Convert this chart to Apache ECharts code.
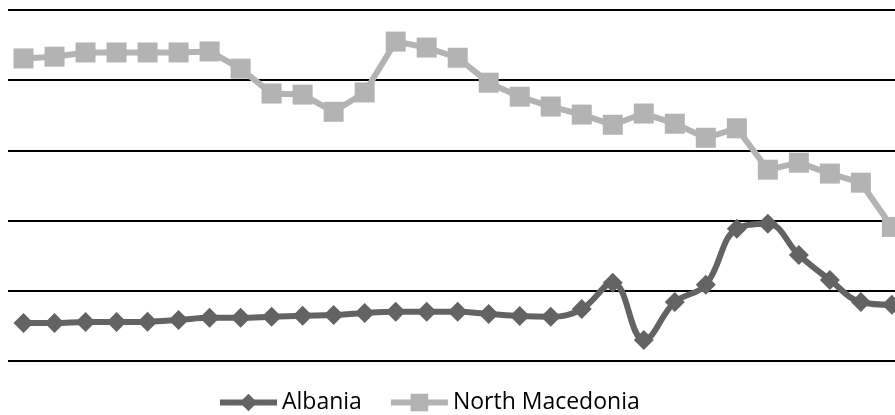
<!DOCTYPE html>
<html>
<head>
<meta charset="utf-8">
<script src="https://cdn.jsdelivr.net/npm/echarts@6/dist/echarts.min.js"></script>
<style>
  html, body { margin: 0; padding: 0; background: #fff; }
  #chart { width: 895px; height: 415px; }
</style>
</head>
<body>
<div id="chart"></div>
<script>
// Periods along the horizontal axis (29 observations)
const periods = [
  '1', '2', '3', '4', '5', '6', '7', '8', '9', '10',
  '11', '12', '13', '14', '15', '16', '17', '18', '19', '20',
  '21', '22', '23', '24', '25', '26', '27', '28', '29'
];

const albania = [
  10.8, 10.8, 11.1, 11.1, 11.2, 11.7, 12.3, 12.3, 12.6, 12.9,
  13.1, 13.7, 14.0, 14.0, 14.0, 13.4, 12.8, 12.6, 14.8, 22.3,
  6.0, 16.8, 21.7, 37.7, 39.1, 30.2, 23.1, 16.8, 16.0
];

const northMacedonia = [
  86.2, 86.7, 87.9, 87.9, 87.9, 87.9, 88.2, 83.3, 76.2, 75.9,
  71.0, 76.5, 91.0, 89.3, 86.4, 79.3, 75.3, 72.5, 70.2, 67.3,
  70.5, 67.6, 63.6, 66.3, 54.5, 56.5, 53.4, 50.8, 38.2
];

const yMin = 0;
const yMax = 100;
const yStep = 20;

// Period index on a numeric axis: half a slot of room before the first
// point; the view is cut off shortly after the last one.
const xMin = -0.5;
const xMax = 28.1;

const toPairs = (values) => values.map((v, i) => [i, v]);

const chart = echarts.init(document.getElementById('chart'), null, { renderer: 'canvas' });

chart.setOption({
  animation: false,
  backgroundColor: '#ffffff',
  grid: { left: 8, right: 0, top: 10, bottom: 54, containLabel: false },
  xAxis: {
    type: 'value',
    min: xMin,
    max: xMax,
    axisLine: { show: false },
    axisTick: { show: false },
    axisLabel: { show: false },
    splitLine: { show: false }
  },
  yAxis: {
    type: 'value',
    min: yMin,
    max: yMax,
    interval: yStep,
    axisLine: { show: false },
    axisTick: { show: false },
    axisLabel: { show: false },
    splitLine: { show: true, lineStyle: { color: '#000000', width: 2 } }
  },
  legend: {
    left: 212,
    top: 386,
    itemWidth: 57,
    itemHeight: 22,
    itemGap: 26,
    lineStyle: { width: 6 },
    textStyle: { fontFamily: 'Open Sans', fontSize: 23, color: '#000000' },
    data: ['Albania', 'North Macedonia']
  },
  series: [
    {
      name: 'Albania',
      type: 'line',
      data: toPairs(albania),
      smooth: 0.4,
      clip: false,
      symbol: 'diamond',
      symbolSize: 20,
      showAllSymbol: true,
      lineStyle: { color: '#636363', width: 6 },
      itemStyle: { color: '#636363' },
      z: 3
    },
    {
      name: 'North Macedonia',
      type: 'line',
      data: toPairs(northMacedonia),
      smooth: false,
      clip: false,
      symbol: 'rect',
      symbolSize: 20,
      showAllSymbol: true,
      lineStyle: { color: '#b3b3b3', width: 6 },
      itemStyle: { color: '#b3b3b3' },
      z: 2
    }
  ]
});
</script>
</body>
</html>
